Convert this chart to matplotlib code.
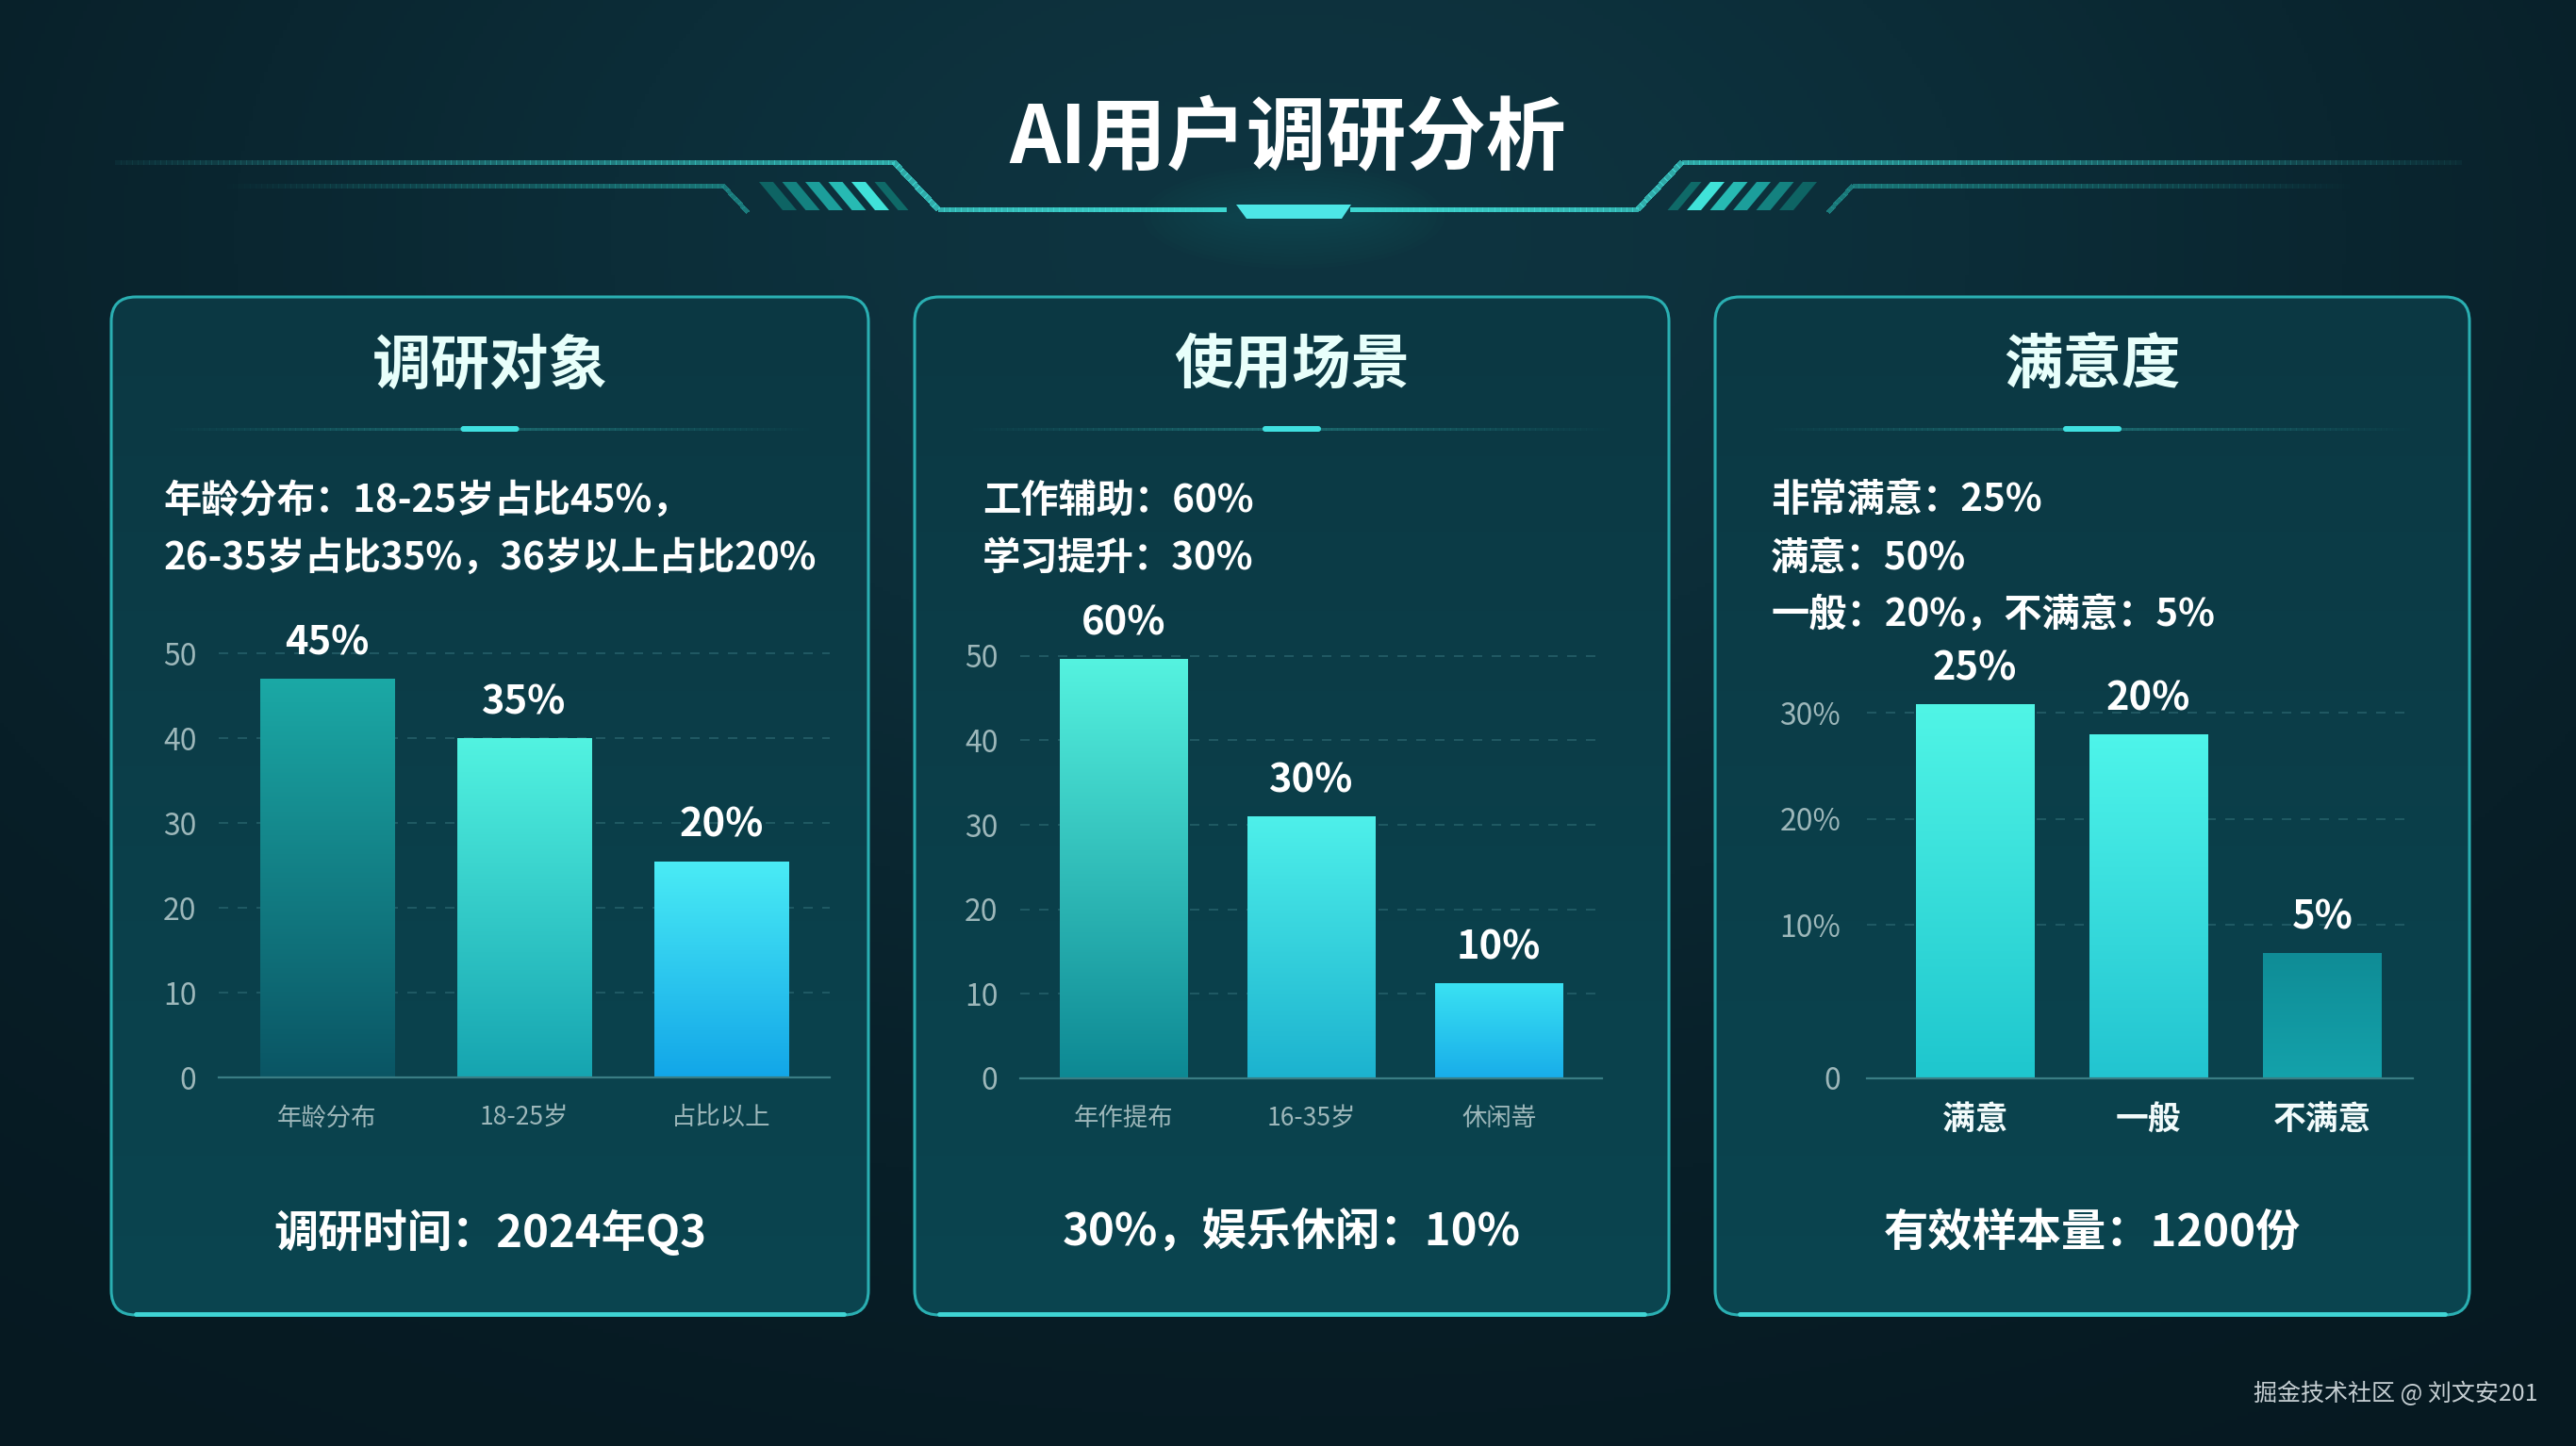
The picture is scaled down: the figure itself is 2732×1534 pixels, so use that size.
import numpy as np
import matplotlib
matplotlib.use('Agg')
import matplotlib.pyplot as plt
from matplotlib.patches import FancyBboxPatch, Polygon, Ellipse
from matplotlib.collections import LineCollection
from matplotlib.colors import to_rgb

plt.rcParams['font.family'] = ['Noto Sans CJK SC', 'DejaVu Sans']

W, H = 2732, 1534

# ---- data ----
main_title = 'AI用户调研分析'
panel_titles = ['调研对象', '使用场景', '满意度']
panel_desc = [
    ['年龄分布：18-25岁占比45%，', '26-35岁占比35%，36岁以上占比20%'],
    ['工作辅助：60%', '学习提升：30%'],
    ['非常满意：25%', '满意：50%', '一般：20%，不满意：5%'],
]
panel_foot = ['调研时间：2024年Q3', '30%，娱乐休闲：10%', '有效样本量：1200份']
watermark = '掘金技术社区 @ 刘文安201'

age_labels = ['年龄分布', '18-25岁', '占比以上']
age_values = [47.0, 40.0, 25.5]
age_texts = ['45%', '35%', '20%']

scene_labels = ['年作提布', '16-35岁', '休闲嵜']
scene_values = [49.7, 31.0, 11.3]
scene_texts = ['60%', '30%', '10%']

sat_labels = ['满意', '一般', '不满意']
sat_values = [30.8, 28.0, 7.3]
sat_texts = ['25%', '20%', '5%']

count_ticks = [0, 10, 20, 30, 40, 50]
sat_floor = -4.5
sat_ticks = [sat_floor, 10, 20, 30]
sat_ticklabels = ['0', '10%', '20%', '30%']

age_colors = [('#1ba9a6', '#0a5564'), ('#52f3e1', '#16a4b0'), ('#4aecf5', '#12a6e8')]
scene_colors = [('#55f3e0', '#0d8893'), ('#4ef0ea', '#1cb2cf'), ('#3ae2f3', '#18ade9')]
sat_colors = [('#50f5e6', '#1ec6ce'), ('#4ef5ea', '#22c4d0'), ('#0f8c96', '#14a2ab')]


def vgrad(top, bottom, n=256):
    t = np.linspace(0, 1, n)[:, None]
    a = np.array(to_rgb(top))
    b = np.array(to_rgb(bottom))
    return (a * (1 - t) + b * t)[:, None, :]


def fade_line(ax, xs, ys, color, lw, a0, a1):
    # polyline whose alpha goes from a0 to a1 along its length
    pts = np.array(list(zip(xs, ys)), float)
    seglen = np.hypot(*np.diff(pts, axis=0).T)
    total = seglen.sum()
    segments, alphas = [], []
    acc = 0
    for p, q, L in zip(pts[:-1], pts[1:], seglen):
        k = max(int(L / 6), 1)
        for j in range(k):
            segments.append([p + (q - p) * j / k, p + (q - p) * (j + 1) / k])
            alphas.append(a0 + (a1 - a0) * (acc + L * (j + 0.5) / k) / total)
        acc += L
    rgb = to_rgb(color)
    ax.add_collection(LineCollection(segments, colors=[(*rgb, a) for a in alphas],
                                     linewidths=lw, capstyle='butt', joinstyle='miter',
                                     antialiased=False, zorder=3))


def px_rect(left, top, right, bottom):
    return [left / W, (H - bottom) / H, (right - left) / W, (bottom - top) / H]


fig = plt.figure(figsize=(W / 100, H / 100), dpi=100)
fig.patch.set_facecolor('#081f27')

# ---- background ----
bg = fig.add_axes([0, 0, 1, 1])
bg.set_axis_off()
yy, xx = np.mgrid[0:H:4, 0:W:4]
r = np.sqrt(((xx - 1366) / 1700.0) ** 2 + ((yy - 250) / 1100.0) ** 2)
f = np.clip(np.exp(-r ** 2 * 1.6), 0, 1)[..., None]
c_edge = np.array(to_rgb('#061820'))
c_mid = np.array(to_rgb('#0e3440'))
bg.imshow(c_edge * (1 - f) + c_mid * f, extent=(0, W, H, 0), aspect='auto', zorder=0)
bg.set_xlim(0, W)
bg.set_ylim(H, 0)

# ---- header decoration ----
bg.text(1366, 148, main_title, ha='center', va='center', fontsize=61,
        weight='bold', color='white', zorder=5)

for mirror in (False, True):
    mx = (lambda v: [W - t for t in v]) if mirror else (lambda v: v)
    fade_line(bg, mx([122, 948, 995, 1300]), [172, 172, 222, 222], '#3ed8d2', 3.5, 0.05, 1.0)
    fade_line(bg, mx([235, 767, 793]), [197, 197, 225], '#1f8e8c', 2.5, 0.0, 0.8)
    stripe_cols = ['#0e6464', '#148280', '#1c9e9b', '#27bab3', '#40e2d9', '#0f6a68']
    for i, c in enumerate(stripe_cols):
        x0 = 805 + 24.5 * i
        w = 15 if i < 5 else 11
        pts = [(x0, 193), (x0 + w, 193), (x0 + w + 25, 223), (x0 + 25, 223)]
        pts = [(W - p[0], p[1]) if mirror else p for p in pts]
        bg.add_patch(Polygon(pts, closed=True, facecolor=c, edgecolor='none', zorder=3))

for k in np.linspace(110, 20, 12):
    bg.add_patch(Ellipse((1372, 230), 2 * k + 100, k, facecolor='#3ee0e0', alpha=0.012,
                         edgecolor='none', zorder=2))
bg.add_patch(Polygon([(1311, 217), (1433, 217), (1423, 232), (1322, 232)],
                     closed=True, facecolor='#4de6e6', edgecolor='none', zorder=4))

# ---- panels ----
panels = [(118, 921), (970, 1770), (1819, 2619)]
desc_offset = [56, 72, 59]
p_top, p_bot = 315, 1395
for (l, rgt), off, ttl, desc, foot in zip(panels, desc_offset, panel_titles, panel_desc, panel_foot):
    box = FancyBboxPatch((l, p_top), rgt - l, p_bot - p_top,
                         boxstyle='round,pad=0,rounding_size=26',
                         facecolor='none', edgecolor='#2aafb2', linewidth=2.2, zorder=3)
    bg.add_patch(box)
    im = bg.imshow(vgrad('#0c3843', '#0a4550'), extent=(l, rgt, p_bot, p_top),
                   aspect='auto', zorder=1)
    im.set_clip_path(box)
    bg.plot([l + 26, rgt - 26], [p_bot - 1, p_bot - 1], color='#3fd4d4', lw=3.5, zorder=4,
            solid_capstyle='round')
    cx = (l + rgt) / 2
    bg.text(cx, 388, ttl, ha='center', va='center', fontsize=45, weight='bold',
            color='#e8fffb', zorder=5)
    fade_line(bg, [l + 56, cx], [455, 455], '#1d6d72', 1.8, 0.0, 0.9)
    fade_line(bg, [cx, rgt - 58], [455, 455], '#1d6d72', 1.8, 0.9, 0.0)
    bg.add_patch(FancyBboxPatch((cx - 31, 452), 62, 6, boxstyle='round,pad=0,rounding_size=3',
                                facecolor='#40e0e0', edgecolor='none', zorder=5))
    for i, line in enumerate(desc):
        bg.text(l + off, 531 + 61 * i, line, ha='left', va='center',
                fontsize=29, weight='bold', color='white', zorder=5)
    bg.text(cx, 1308, foot, ha='center', va='center', fontsize=34, weight='bold',
            color='white', zorder=5)

bg.text(2692, 1479, watermark, ha='right', va='center', fontsize=18, color='#c5ced2', zorder=5)
bg.set_xlim(0, W)
bg.set_ylim(H, 0)


# ---- charts ----
def draw_chart(rect, cats, vals, texts, colors, ylim, ticks, ticklabels, xlim,
               floor=0, bold_x=False, ypad=17):
    ax = fig.add_axes(rect)
    ax.set_facecolor('none')
    x = np.arange(len(cats))
    vals = np.array(vals)
    bars = ax.bar(x, vals - floor, bottom=floor, width=0.68, zorder=2)
    for bar, (top, bottom) in zip(bars, colors):
        x0, y0 = bar.get_x(), bar.get_y()
        im = ax.imshow(vgrad(top, bottom), extent=(x0, x0 + bar.get_width(), y0, y0 + bar.get_height()),
                       origin='upper', aspect='auto', zorder=2)
        im.set_clip_path(bar)
        bar.set_facecolor('none')
        bar.set_edgecolor('none')
    for xi, v, t in zip(x, vals, texts):
        ax.annotate(t, (xi, v), xytext=(0, 27), textcoords='offset points', ha='center',
                    va='center', fontsize=30, weight='bold', color='white', annotation_clip=False)
    ax.set_xlim(*xlim)
    ax.set_ylim(*ylim)
    ax.set_yticks(ticks, ticklabels)
    ax.set_xticks(x, cats)
    ax.yaxis.grid(True, linestyle=(0, (6, 6)), color='#2b6770', lw=1.2, alpha=0.8)
    ax.set_axisbelow(True)
    for s in ['top', 'right', 'left']:
        ax.spines[s].set_visible(False)
    ax.spines['bottom'].set_color('#3a7d84')
    ax.spines['bottom'].set_linewidth(1.6)
    ax.tick_params(axis='y', length=0, pad=ypad, labelsize=23, labelcolor='#9db7ba')
    if bold_x:
        ax.tick_params(axis='x', length=0, pad=19, labelsize=25, labelcolor='#f2fbfb')
        for lab in ax.get_xticklabels():
            lab.set_fontweight('bold')
    else:
        ax.tick_params(axis='x', length=0, pad=21, labelsize=19, labelcolor='#9db7ba')
    return ax


draw_chart(px_rect(232, 648, 880, 1143), age_labels, age_values, age_texts, age_colors,
           (0, 55), count_ticks, [str(t) for t in count_ticks], (-0.55, 2.55))
draw_chart(px_rect(1082, 651, 1699, 1144), scene_labels, scene_values, scene_texts, scene_colors,
           (0, 55), count_ticks, [str(t) for t in count_ticks], (-0.55, 2.55))
draw_chart(px_rect(1980, 700, 2559, 1144), sat_labels, sat_values, sat_texts, sat_colors,
           (sat_floor, 35), sat_ticks, sat_ticklabels, (-0.62, 2.52),
           floor=sat_floor, bold_x=True, ypad=20)

fig.savefig('out.png', dpi=100, facecolor=fig.get_facecolor())
